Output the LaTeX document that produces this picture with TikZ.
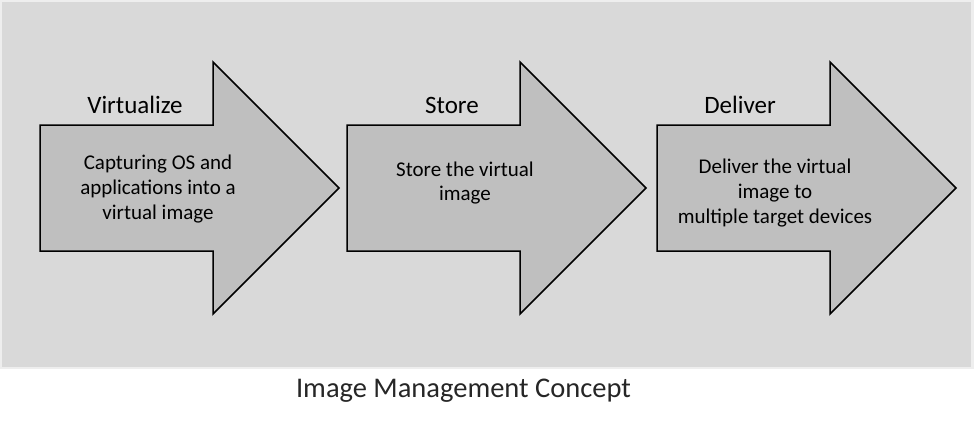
\documentclass[tikz,border=0pt]{standalone}
\usepackage{fontspec}
\setmainfont{Carlito}
\definecolor{panelgray}{HTML}{D9D9D9}
\definecolor{framegray}{HTML}{EEEEEE}
\definecolor{arrowgray}{HTML}{BFBFBF}
\tikzset{
	bigarrow/.style = {draw = black, line width = 1.5pt, fill = arrowgray, line join = miter},
	steplabel/.style = {anchor = base, font = \fontsize{25}{30}\selectfont},
	steptext/.style = {align = center, font = \fontsize{21}{24.8}\selectfont}
}

\begin{document}
\begin{tikzpicture}[x = 1pt, y = -1pt]
	\useasboundingbox (0,0) rectangle (974,432);
	% background panel
	\fill[framegray] (0,0) rectangle (974,369);
	\fill[panelgray] (2,2) rectangle (971,367);
	
	% arrows
	\foreach \xs in {40, 347, 657} {
		\begin{scope}[xshift=\xs pt]
			\draw[bigarrow] (0,125) -- (173,125) -- (173,62) -- (299,188)
				-- (173,314) -- (173,251) -- (0,251) -- cycle;
		\end{scope}
	}
	
	% step names
	\node[steplabel] (virt) at (135,113) {Virtualize};
	\node[steplabel] (store) at (452,113) {Store};
	\node[steplabel] (deliv) at (740,113) {Deliver};
	
	% step texts
	\node[steptext] (virttext) at (158,189) {Capturing OS and\\applications into a\\virtual image};
	\node[steptext] (storetext) at (465,183) {Store the virtual\\image};
	\node[steptext] (delivtext) at (775,193) {Deliver the virtual\\image to\\multiple target devices};
	
	% caption
	\node[anchor = base, text = black!85, font = \fontsize{28.5}{34}\selectfont] (caption) at (463.5,397) {Image Management Concept};
\end{tikzpicture}
\end{document}
